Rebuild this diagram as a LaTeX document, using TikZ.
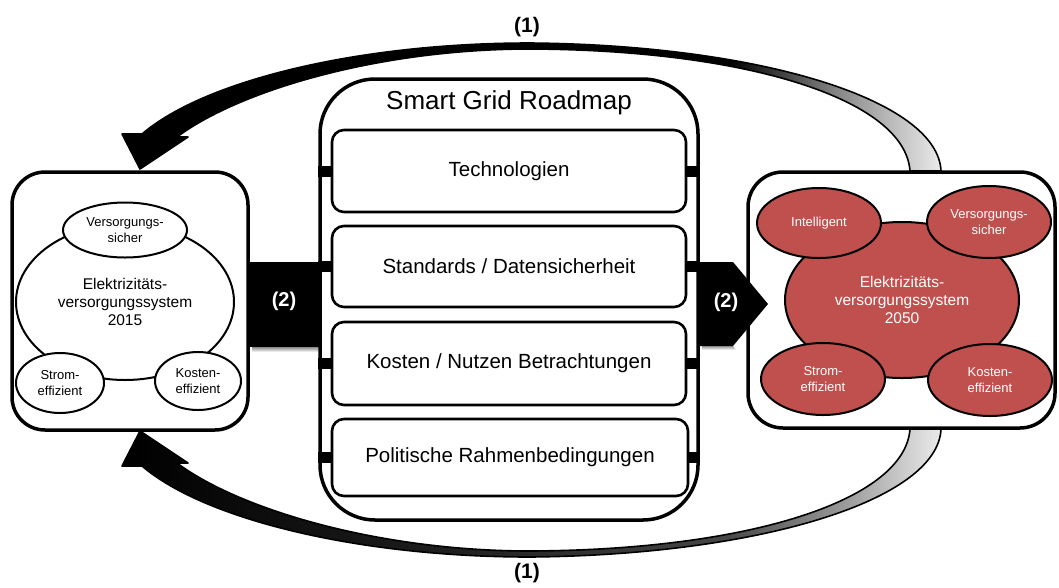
\documentclass[tikz,border=0pt]{standalone}
\usepackage{fontspec}
\setmainfont{Liberation Sans}
\usetikzlibrary{shapes.geometric}
\definecolor{gridred}{HTML}{C0504D}
% fill of the two feedback arrows: dark along the head, fading out towards the 2050 box
\pgfdeclarehorizontalshading{flowtop}{100bp}{color(0bp)=(black); color(25bp)=(black); color(62bp)=(black); color(69bp)=(black!45); color(75bp)=(white!92!black); color(100bp)=(white)}
\pgfdeclarehorizontalshading{flowbottom}{100bp}{color(0bp)=(black); color(25bp)=(black); color(45bp)=(black!88); color(62bp)=(black!72); color(69bp)=(black!40); color(75bp)=(white!92!black); color(100bp)=(white)}
\begin{document}
\begin{tikzpicture}[x=1pt,y=-1pt,
  box/.style={draw=black, line width=3.5pt, fill=white, rounded corners=#1, inner sep=0pt},
  box/.default=33pt,
  row/.style={draw=black, line width=2.6pt, fill=white, rounded corners=12pt,
    minimum width=354pt, inner sep=0pt, font=\fontsize{20.5}{24}\selectfont},
  tab/.style={line width=11pt},
  oval/.style={ellipse, draw=black, line width=2pt, inner sep=0pt, align=center},
  oldoval/.style={oval, fill=white, text=black},
  newoval/.style={oval, fill=gridred, text=white},
  bigtxt/.style={font=\fontsize{15.5}{18}\selectfont},
  smalltxt/.style={font=\fontsize{13}{15.5}\selectfont},
  steplbl/.style={text=white, font=\bfseries\fontsize{20}{24}\selectfont},
  looplbl/.style={text=black, font=\bfseries\fontsize{21}{24}\selectfont},
  flow/.style={draw=black, line width=1.6pt, line join=round}
]
\useasboundingbox (0,0) rectangle (1059,587);

% ---- feedback arrows (1): from the 2050 system back to the 2015 system
\def\flowpath{(941,171) .. controls (938,100) and (760,45) .. (530,43)
  .. controls (360,43) and (205,80) .. (142,134)
  -- (122,134) -- (140,169) -- (188,137) -- (177,137)
  .. controls (240,90) and (380,49) .. (530,49)
  .. controls (750,50) and (905,100) .. (910,171) -- cycle}
\shadedraw[flow, shading=flowtop] \flowpath;
\begin{scope}[shift={(0,600)}, yscale=-1]
  \shadedraw[flow, shading=flowbottom] \flowpath;
\end{scope}

% ---- step arrow (2) between the 2015 system and the roadmap
\shade[top color=black!45, bottom color=white] (252,347) rectangle (320,352);
\fill[black] (250,262) rectangle (321,347);
\node[steplbl] (stepin) at (284,301) {(2)};

% ---- 2015 system
\node[box, minimum width=236pt, minimum height=258pt] (old) at (130,301) {};
\node[oldoval, bigtxt, minimum width=218pt, minimum height=156pt] (oldcore) at (125,302)
  {Elektrizitäts-\\versorgungssystem\\2015};
\node[oldoval, smalltxt, minimum width=124pt, minimum height=55pt] (oldsafe) at (125,230)
  {Versorgungs-\\sicher};
\node[oldoval, smalltxt, minimum width=88pt, minimum height=60pt] (oldpower) at (60,383)
  {Strom-\\effizient};
\node[oldoval, smalltxt, minimum width=86pt, minimum height=58pt] (oldcost) at (198,381)
  {Kosten-\\effizient};

% ---- Smart Grid Roadmap
\node[box=55pt, minimum width=378pt, minimum height=441pt] (road) at (509,299.5) {};
\node[font=\fontsize{26}{30}\selectfont] (title) at (509,103) {Smart Grid Roadmap};
\node[row, minimum height=82pt] (r1) at (509,171) {Technologien};
\node[row, minimum height=81pt] (r2) at (509,266.5) {Standards / Datensicherheit};
\node[row, minimum height=83pt] (r3) at (509,363.5) {Kosten / Nutzen Betrachtungen};
\node[row, minimum height=77pt, minimum width=356pt] (r4) at (510,457.5) {Politische Rahmenbedingungen};
\foreach \r in {r1,r2,r3,r4}{
  \draw[tab] (\r.west) -- (\r.west -| road.west);
  \draw[tab] (\r.east) -- (\r.east -| road.east);
}

% ---- 2050 system
\node[box=35pt, minimum width=307pt, minimum height=256pt] (new) at (901.5,300) {};
\node[newoval, bigtxt, minimum width=234pt, minimum height=156pt] (newcore) at (902,300)
  {Elektrizitäts-\\versorgungssystem\\2050};
\node[newoval, smalltxt, minimum width=124pt, minimum height=70pt] (newsmart) at (819,223)
  {Intelligent};
\node[newoval, smalltxt, minimum width=124pt, minimum height=72pt] (newsafe) at (989,222)
  {Versorgungs-\\sicher};
\node[newoval, smalltxt, minimum width=124pt, minimum height=72pt] (newpower) at (823,379)
  {Strom-\\effizient};
\node[newoval, smalltxt, minimum width=124pt, minimum height=72pt] (newcost) at (990,380)
  {Kosten-\\effizient};

% ---- step arrow (2) from the roadmap to the 2050 system
\shade[top color=black!40, bottom color=white] (702,346) -- (733,346) -- (736,350) -- (702,350) -- cycle;
\fill[black] (700,262) -- (733,262) -- (768,304) -- (733,346) -- (700,346) -- cycle;
\node[steplbl] (stepout) at (726,302) {(2)};

% ---- loop labels
\node[looplbl] (looptop) at (527,27) {(1)};
\node[looplbl] (loopbot) at (527,573) {(1)};
\end{tikzpicture}
\end{document}
